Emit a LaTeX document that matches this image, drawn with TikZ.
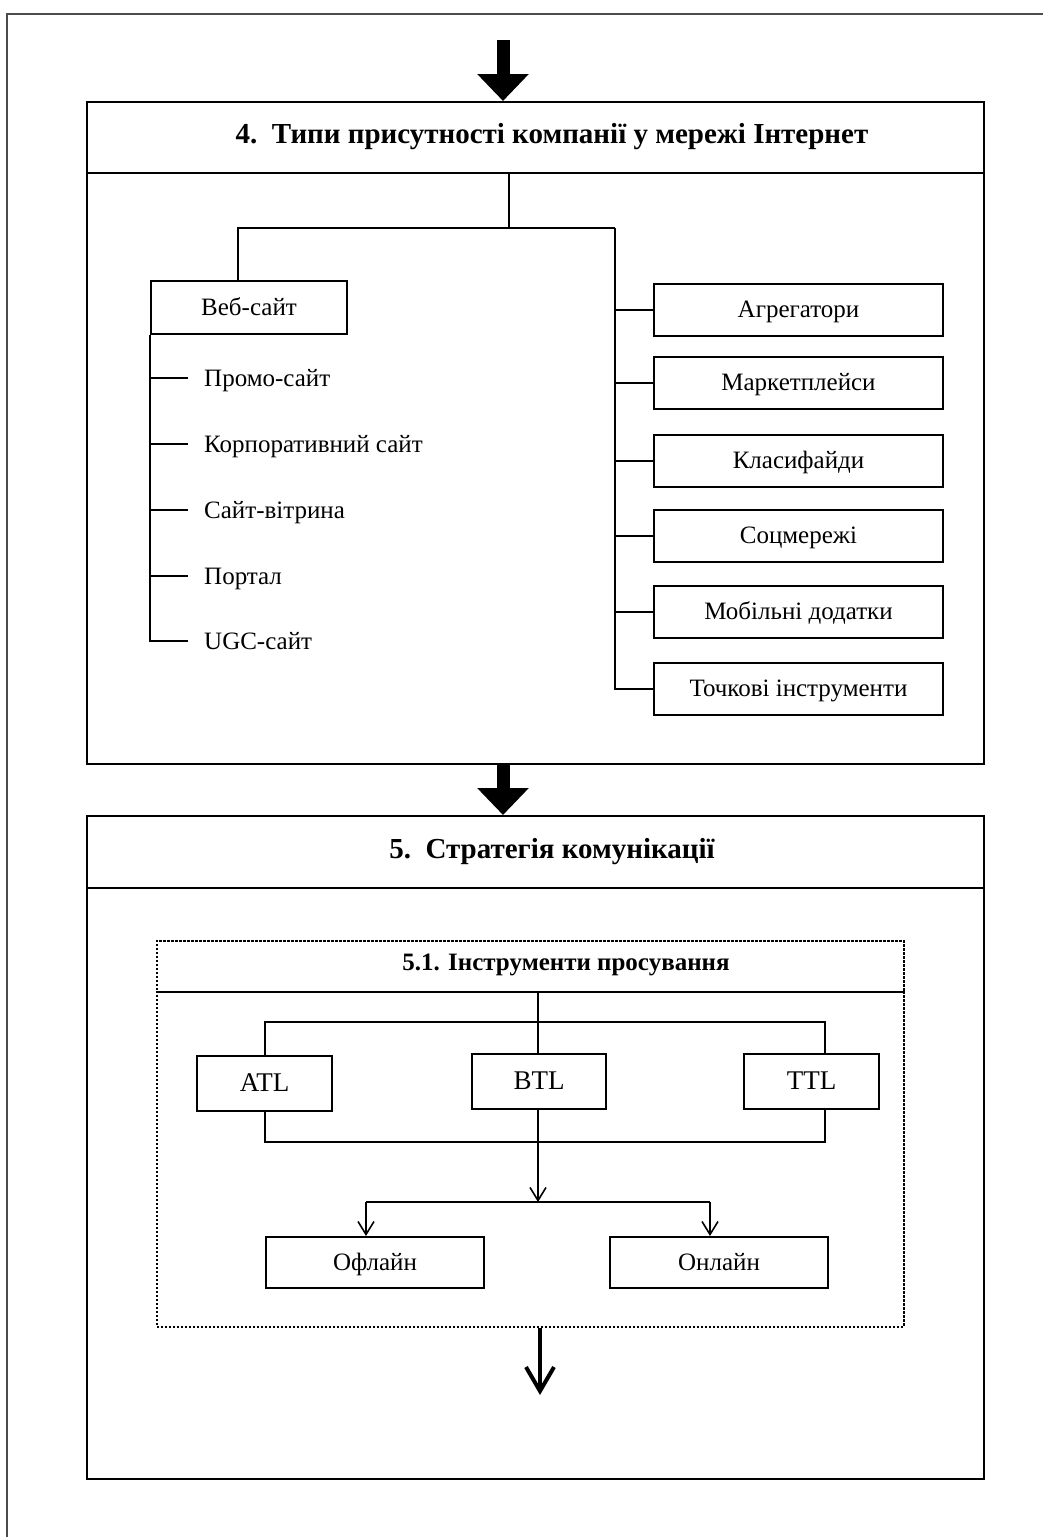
\documentclass[tikz,border=0pt]{standalone}
\usepackage{fontspec}
\setmainfont{Liberation Serif}
\usetikzlibrary{arrows.meta}
\begin{document}
\begin{tikzpicture}[x=1pt,y=-1pt,
  box/.style={draw, line width=2pt, inner sep=0pt, anchor=north west, text height=19pt, text depth=4pt, font=\fontsize{25}{28}\selectfont},
  dbox/.style={draw, line width=1.6pt, dash pattern=on 2.5pt off 1.5pt, inner sep=0pt, anchor=north west},
  item/.style={anchor=west, inner sep=0pt, inner xsep=16pt, text height=19pt, text depth=3pt, font=\fontsize{25}{28}\selectfont},
  ttl/.style={font=\bfseries\fontsize{29}{33}\selectfont},
  conn/.style={line width=2pt},
  sarrow/.style={line width=1.6pt, -{Straight Barb[length=13pt,width=16pt,line width=1.6pt]}},
  fatarrow/.style={line width=13pt, -{Triangle[length=27pt,width=50pt]}},
  midarrow/.style={line width=4pt, -{Straight Barb[length=24pt,width=28pt,line width=4pt]}}]
\useasboundingbox (0,0) rectangle (1043,1537);
% outer frame
\draw[line width=2pt, black!70] (7,1537) -- (7,14) -- (1043,14);
% ===== block 4
\node[box, minimum width=897pt, minimum height=71pt] (t4) at (86,101) {};
\node[ttl] (t4txt) at (552,137) {4.\ \ Типи присутності компанії у мережі Інтернет};
\node[box, minimum width=897pt, minimum height=591pt] (b4) at (86,172) {};
\coordinate (topstart) at (503,40);
\draw[fatarrow] (topstart) -- (t4.north -| topstart);
% tree
\coordinate (j) at (509,228);
\coordinate (rb) at (615,228);
\node[box, minimum width=196pt, minimum height=53pt] (web) at (150,280) {Веб-сайт};
\coordinate (wl) at (238,228);
\draw[conn] (t4.south -| j) -- (j);
\draw[conn] (web.north -| wl) -- (wl) -- (rb);
\node[item] (i1) at (188,378) {Промо-сайт};
\node[item] (i2) at (188,444) {Корпоративний сайт};
\node[item] (i3) at (188,510) {Сайт-вітрина};
\node[item] (i4) at (188,576) {Портал};
\node[item] (i5) at (188,641) {UGC-сайт};
\draw[conn] (web.south west) -- (web.south west |- i5.west) -- (i5.west);
\foreach \k in {1,2,3,4}{\draw[conn] (web.south west |- i\k.west) -- (i\k.west);}
% right column
\node[box, minimum width=289pt, minimum height=52pt] (r1) at (653,283) {Агрегатори};
\node[box, minimum width=289pt, minimum height=52pt] (r2) at (653,356) {Маркетплейси};
\node[box, minimum width=289pt, minimum height=52pt] (r3) at (653,434) {Класифайди};
\node[box, minimum width=289pt, minimum height=52pt] (r4) at (653,509) {Соцмережі};
\node[box, minimum width=289pt, minimum height=52pt] (r5) at (653,585) {Мобільні додатки};
\node[box, minimum width=289pt, minimum height=52pt] (r6) at (653,662) {Точкові інструменти};
\draw[conn] (rb) -- (rb |- r6.west) -- (r6.west);
\foreach \k in {1,2,3,4,5}{\draw[conn] (rb |- r\k.west) -- (r\k.west);}
% ===== block 5
\node[box, minimum width=897pt, minimum height=72pt] (t5) at (86,815) {};
\node[ttl] (t5txt) at (552,852) {5.\ \ Стратегія комунікації};
\node[box, minimum width=897pt, minimum height=591pt] (b5) at (86,887) {};
\draw[fatarrow] (b4.south -| topstart) -- (t5.north -| topstart);
% dashed block 5.1
\node[dbox, minimum width=747pt, minimum height=51pt] (t51) at (156,940) {};
\node[font=\bfseries\fontsize{25}{28}\selectfont] (t51txt) at (566,965) {5.1. Інструменти просування};
\node[dbox, minimum width=747pt, minimum height=335pt] (b51) at (156,991) {};
\node[box, minimum width=135pt, minimum height=55pt, font=\fontsize{27}{30}\selectfont] (atl) at (196,1055) {ATL};
\node[box, minimum width=134pt, minimum height=55pt, font=\fontsize{27}{30}\selectfont] (btl) at (471,1053) {BTL};
\node[box, minimum width=135pt, minimum height=55pt, font=\fontsize{27}{30}\selectfont] (ttl) at (743,1053) {TTL};
\coordinate (c1) at (538,1022);
\coordinate (ax) at (265,1022);
\coordinate (tx) at (825,1022);
\coordinate (c2) at (538,1142);
\draw[conn] (t51.south -| c1) -- (btl.north -| c1);
\draw[conn] (atl.north -| ax) -- (ax) -- (tx) -- (ttl.north -| tx);
\draw[conn] (atl.south -| ax) -- (ax |- c2) -- (tx |- c2) -- (ttl.south -| tx);
\coordinate (split) at (538,1202);
\node[box, minimum width=218pt, minimum height=51pt] (off) at (265,1236) {Офлайн};
\node[box, minimum width=218pt, minimum height=51pt] (on) at (609,1236) {Онлайн};
\coordinate (ofx) at (366,1202);
\coordinate (onx) at (710,1202);
\draw[line width=1.6pt] (btl.south -| c1) -- (c2);
\draw[sarrow] (c2) -- (split);
\draw[line width=1.6pt] (ofx) -- (onx);
\draw[sarrow] (ofx) -- (off.north -| ofx);
\draw[sarrow] (onx) -- (on.north -| onx);
\coordinate (endarrow) at (540,1395);
\draw[midarrow] (b51.south -| endarrow) -- (endarrow);
\end{tikzpicture}
\end{document}
